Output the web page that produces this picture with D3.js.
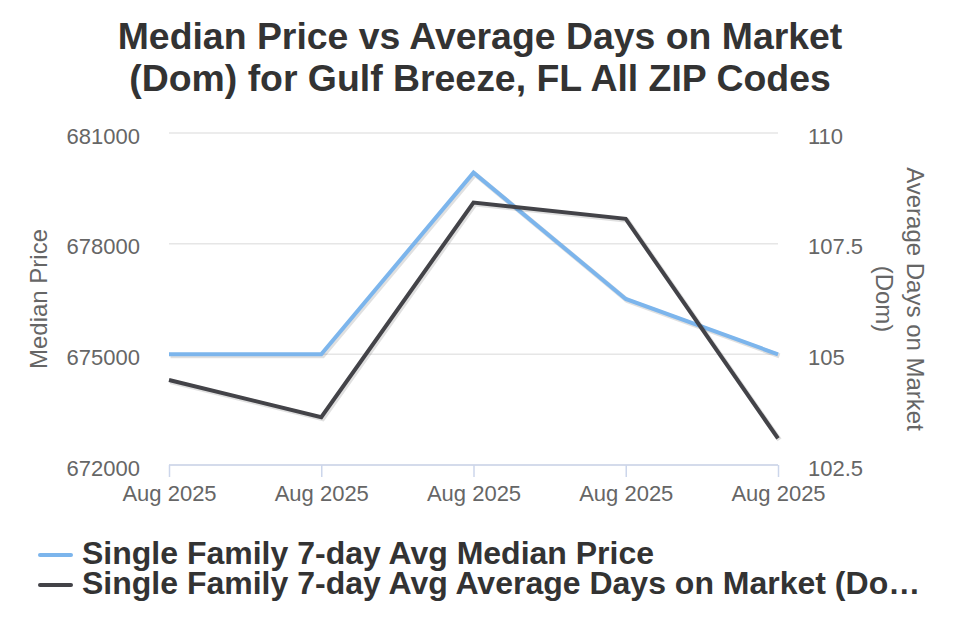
<!DOCTYPE html>
<html><head><meta charset="utf-8">
<script src="https://cdn.jsdelivr.net/npm/d3@7"></script>
<style>body{margin:0;background:#fff;font-family:"Liberation Sans",Arial,sans-serif;}</style>
</head><body><svg id="c" width="960" height="640"></svg>
<script>
const categories = ["Aug 2025","Aug 2025","Aug 2025","Aug 2025","Aug 2025"];
const medianPrice = [675000, 675000, 679925, 676500, 675000];
const avgDom = [104.42, 103.58, 108.43, 108.06, 103.1];
const leftTicks = [672000, 675000, 678000, 681000];
const rightTicks = [102.5, 105, 107.5, 110];
const titleLines = ["Median Price vs Average Days on Market", "(Dom) for Gulf Breeze, FL All ZIP Codes"];
const seriesNames = ["Single Family 7-day Avg Median Price", "Single Family 7-day Avg Average Days on Market (Do…"];
const colors = ["#7cb5ec", "#434348"];

const svg = d3.select("#c");
const L = 169, R = 778, T = 133, B = 465;
const x = d3.scalePoint().domain(d3.range(categories.length)).range([L, R]);
const yL = d3.scaleLinear().domain([672000, 681000]).range([B, T]);
const yR = d3.scaleLinear().domain([102.5, 110]).range([B, T]);
const FF = "Liberation Sans, Arial, sans-serif";

// title
svg.append("g").selectAll("text").data(titleLines).join("text")
  .attr("x", 480).attr("y", (d,i)=>49 + i*42).attr("text-anchor","middle")
  .attr("font-size", 37.4).attr("font-weight","bold").attr("fill","#333").text(d=>d);

// gridlines
svg.append("g").selectAll("line").data(leftTicks).join("line")
  .attr("x1", L).attr("x2", R).attr("y1", d=>yL(d)).attr("y2", d=>yL(d))
  .attr("stroke","#e6e6e6").attr("stroke-width",1.5);

// left axis labels
const gl = svg.append("g").attr("transform",`translate(${L},3)`)
  .call(d3.axisLeft(yL).tickValues(leftTicks).tickSize(0).tickPadding(29).tickFormat(d3.format("d")));
gl.select(".domain").remove();
gl.selectAll("text").attr("font-size",22).attr("fill","#666").attr("font-family",FF);

// right axis labels
const gr = svg.append("g").attr("transform",`translate(${R},3)`)
  .call(d3.axisRight(yR).tickValues(rightTicks).tickSize(0).tickPadding(30).tickFormat(d=>String(d)));
gr.select(".domain").remove();
gr.selectAll("text").attr("font-size",22).attr("fill","#666").attr("font-family",FF);

// bottom axis
const gb = svg.append("g").attr("transform",`translate(0,${B})`)
  .call(d3.axisBottom(x).tickSize(12).tickPadding(8).tickFormat(i=>categories[i]));
gb.select(".domain").attr("stroke","#ccd6eb").attr("stroke-width",1.5).attr("d",`M${L},0H${R}`);
gb.selectAll(".tick line").attr("stroke","#ccd6eb").attr("stroke-width",1.5);
gb.selectAll("text").attr("font-size",22).attr("fill","#666").attr("font-family",FF);

// axis titles
svg.append("text").attr("transform","translate(47,299) rotate(-90)").attr("text-anchor","middle")
  .attr("font-size",24).attr("fill","#666").text("Median Price");
svg.append("text").attr("transform","translate(907,299) rotate(90)").attr("text-anchor","middle")
  .attr("font-size",24).attr("fill","#666")
  .selectAll("tspan").data(["Average Days on Market","(Dom)"]).join("tspan")
  .attr("x",0).attr("dy",(d,i)=>i?31:0).text(d=>d);

// lines
const lineL = d3.line().x((d,i)=>x(i)).y(d=>yL(d));
const lineR = d3.line().x((d,i)=>x(i)).y(d=>yR(d));
const series = [{v:medianPrice, f:lineL},{v:avgDom, f:lineR}];
series.forEach((s,k)=>{
  svg.append("path").attr("d", s.f(s.v)).attr("fill","none").attr("stroke","#000").attr("stroke-opacity",0.12)
    .attr("stroke-width",5).attr("transform","translate(1.5,1.5)").attr("stroke-linejoin","miter");
  svg.append("path").attr("d", s.f(s.v)).attr("fill","none").attr("stroke",colors[k])
    .attr("stroke-width",4).attr("stroke-linejoin","miter");
});

// legend
const lg = svg.append("g").selectAll("g").data(seriesNames).join("g")
  .attr("transform",(d,i)=>`translate(40,${555 + i*30})`);
lg.append("line").attr("x1",0).attr("x2",31).attr("stroke",(d,i)=>colors[i]).attr("stroke-width",4).attr("stroke-linecap","round");
lg.append("text").attr("x",42).attr("y",9).attr("font-size",32).attr("font-weight","bold").attr("fill","#333").text(d=>d);
</script></body></html>
